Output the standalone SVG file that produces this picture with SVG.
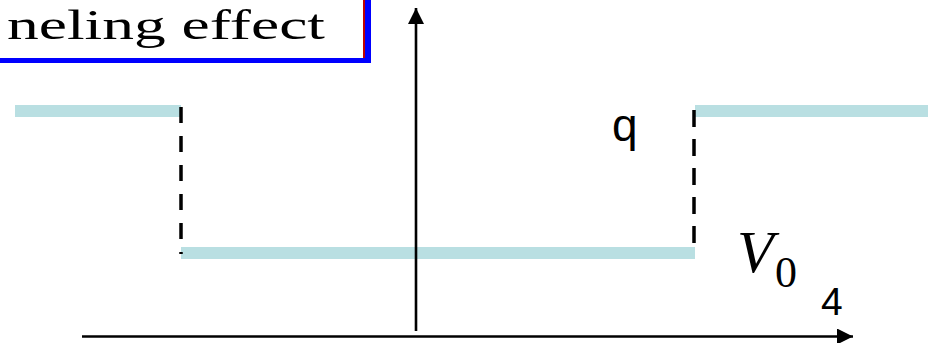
<svg xmlns="http://www.w3.org/2000/svg" width="930" height="343" viewBox="0 0 930 343">
<style>
.lvl{fill:#B9DFE2;}
.dash{stroke:#000;stroke-width:3.5;stroke-dasharray:16 13;fill:none;}
.axis{stroke:#000;stroke-width:2.6;fill:none;}
.sans{font-family:"Liberation Sans",Arial,sans-serif;fill:#000;}
.serif{font-family:"Liberation Serif","Times New Roman",serif;fill:#000;}
</style>
<defs>
<marker id="arr" markerWidth="17" markerHeight="17" refX="16" refY="8" orient="auto" markerUnits="userSpaceOnUse">
<path d="M0,0 L16,8 L0,16 Z" fill="#000"/>
</marker>
</defs>
<g id="title">
<rect x="-10" y="-10" width="381" height="73" fill="#0000FF"/>
<rect x="-10" y="-10" width="375" height="68" fill="#FFFFFF"/>
<line x1="364" y1="-10" x2="364" y2="58" stroke="#C00000" stroke-width="2"/>
<text class="serif" x="7" y="38.5" font-size="42" textLength="318" lengthAdjust="spacingAndGlyphs">neling effect</text>
</g>
<g id="potential">
<rect class="lvl" x="15" y="105" width="166" height="12"/>
<rect class="lvl" x="181" y="247" width="514" height="12"/>
<rect class="lvl" x="695" y="105" width="233" height="12"/>
</g>
<g id="connectors">
<line class="dash" x1="181" y1="107" x2="181" y2="254"/>
<line class="dash" x1="694" y1="110" x2="694" y2="245" style="stroke-dasharray:17 12"/>
<line class="axis" x1="416" y1="331" x2="416" y2="8" marker-end="url(#arr)"/>
<line class="axis" x1="82" y1="336.5" x2="853" y2="336.5" marker-end="url(#arr)"/>
</g>
<g id="labels">
<text class="sans" x="612" y="141" font-size="46">q</text>
<text class="serif" x="737" y="272" font-size="60" font-style="italic">V</text>
<text class="serif" x="775" y="287" font-size="44">0</text>
<text class="sans" x="821" y="315" font-size="39">4</text>
</g>
</svg>
